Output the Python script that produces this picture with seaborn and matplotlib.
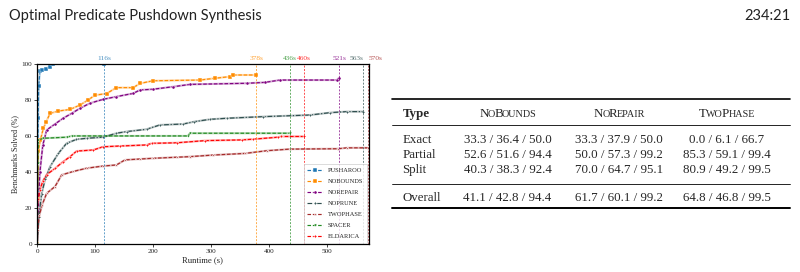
import pandas as pd
import matplotlib
matplotlib.use("Agg")
import matplotlib.pyplot as plt
import seaborn as sns
from matplotlib.lines import Line2D
from matplotlib.font_manager import FontProperties

# =============================
# Data
# =============================
solvers = ["Pusharoo", "NoBounds", "NoRepair", "NoPrune", "TwoPhase", "Spacer", "Eldarica"]

pusharoo_t = [0, 1, 2, 3, 5, 8, 15, 22, 27, 116]
pusharoo_s = [0, 30, 70, 88, 96, 96.6, 97.5, 98.5, 100, 100]

nobounds_t = [0, 1, 2.3, 6, 10.9, 16, 22.4, 36.8, 56.9, 74, 88, 100, 120, 137, 166,
              177.6, 200, 281, 307, 333, 338, 378]
nobounds_s = [0, 25, 52, 58, 64.3, 68, 72.6, 73.9, 74.8, 77.2, 80, 82.7, 83.6, 86.9, 86.9,
              89.2, 90.7, 91.1, 92.1, 93, 93.9, 93.9]

norepair_t = [0, 2, 5, 10, 16.7, 31, 45, 59.8, 74, 91, 114, 137, 166, 177.6, 200, 235,
              264, 361.5, 393, 419, 517, 521]
norepair_s = [0, 20, 40, 55, 63.4, 66.7, 69.9, 72.6, 75.4, 78.2, 80.4, 81.9, 83.7, 85.6, 86,
              87.4, 88.7, 89.3, 89.8, 91.1, 91.1, 92.4]

noprune_t = [0, 3, 8, 14, 22.4, 36.8, 51, 68, 85.7, 114, 137, 154.6, 189, 212, 252, 271,
             298, 327, 390, 471, 505, 534, 563]
noprune_s = [0, 15, 28, 36, 43, 50.4, 56, 58.2, 58.8, 59.4, 61.6, 62.5, 63.8, 66.2, 66.7, 68,
             69.3, 69.9, 70.8, 71.7, 73, 73.6, 73.6]

twophase_t = [0, 1, 4, 9, 16.7, 31, 42.6, 62.6, 85.7, 114, 137, 151.7, 177.6, 200, 241, 263,
              304, 358.6, 396, 436, 519.5, 534, 570]
twophase_s = [0, 8, 16, 22, 28.3, 32, 38.5, 40.4, 42.2, 43.4, 44, 46.8, 47.3, 47.7, 48.3, 48.6,
              49.5, 50.4, 51.9, 52.8, 53, 53.5, 53.5]

spacer_t = [0, 0.5, 1.2, 2.3, 10.9, 51, 60, 260, 264, 436]
spacer_s = [0, 20, 45, 57.8, 58.8, 59.4, 60.1, 60.1, 61.6, 61.6]

eldarica_t = [0, 0.5, 2, 5, 10, 16.7, 31, 45, 57, 68.4, 97, 114, 143, 189, 197.7, 241, 289.6,
              353, 373, 416, 420, 460]
eldarica_s = [0, 20, 25, 30.1, 35, 38.6, 42.1, 45.8, 48.6, 51.7, 52.3, 54.1, 54.5, 55.1, 56,
              56.3, 57.5, 57.9, 58.3, 59.4, 59.8, 59.8]

end_times = [116, 378, 436, 460, 521, 563, 570]
end_solvers = ["Pusharoo", "NoBounds", "Spacer", "Eldarica", "NoRepair", "NoPrune", "TwoPhase"]

table_cols = ["NoBounds", "NoRepair", "TwoPhase"]
table_rows = ["Exact", "Partial", "Split"]
nobounds_vals = [(33.3, 36.4, 50.0), (52.6, 51.6, 94.4), (40.3, 38.3, 92.4)]
norepair_vals = [(33.3, 37.9, 50.0), (50.0, 57.3, 99.2), (70.0, 64.7, 95.1)]
twophase_vals = [(0.0, 6.1, 66.7), (85.3, 59.1, 99.4), (80.9, 49.2, 99.5)]
overall_vals = [(41.1, 42.8, 94.4), (61.7, 60.1, 99.2), (64.8, 46.8, 99.5)]

series = {
    "Pusharoo": (pusharoo_t, pusharoo_s),
    "NoBounds": (nobounds_t, nobounds_s),
    "NoRepair": (norepair_t, norepair_s),
    "NoPrune": (noprune_t, noprune_s),
    "TwoPhase": (twophase_t, twophase_s),
    "Spacer": (spacer_t, spacer_s),
    "Eldarica": (eldarica_t, eldarica_s),
}
df = pd.concat(
    [pd.DataFrame({"Solver": k, "Runtime": t, "Solved": s}) for k, (t, s) in series.items()],
    ignore_index=True,
)

# =============================
# Styles
# =============================
palette = {
    "Pusharoo": "#1f77b4",
    "NoBounds": "#ff8c00",
    "NoRepair": "#800080",
    "NoPrune": "#2f4f4f",
    "TwoPhase": "#a52a2a",
    "Spacer": "#228b22",
    "Eldarica": "#ff0000",
}
markers = {"Pusharoo": "s", "NoBounds": "s", "NoRepair": "o", "NoPrune": "P",
           "TwoPhase": "*", "Spacer": "v", "Eldarica": "P"}
dashes = {k: (3, 1.5) for k in solvers}
dashes["NoPrune"] = (4, 1.5, 1, 1.5)

sns.set_theme(style="ticks")
SERIF = ["Liberation Serif", "DejaVu Serif"]
plt.rcParams["font.family"] = SERIF

fig = plt.figure(figsize=(8, 2.72), dpi=100)
ax = fig.add_axes([37 / 800, 1 - 244.3 / 272, 331.7 / 800, 180.3 / 272])

# pale underlay + dashed overlay
sns.lineplot(data=df, x="Runtime", y="Solved", hue="Solver", palette=palette,
             estimator=None, sort=False, lw=1.5, alpha=0.35, legend=False, ax=ax)
sns.lineplot(data=df, x="Runtime", y="Solved", hue="Solver", style="Solver",
             palette=palette, markers=markers, dashes=dashes, estimator=None, sort=False,
             lw=0.85, markersize=2.2, markeredgewidth=0.3, ax=ax)

# end-time markers
shift = {563: -4.7, 570: 6}
for t, name in zip(end_times, end_solvers):
    c = palette[name]
    ax.axvline(t, color=c, lw=0.7, ls=(0, (2, 1.5)), alpha=0.7)
    ax.annotate(f"{t}s", xy=(t, 1.0), xycoords=ax.get_xaxis_transform(),
                xytext=(shift.get(t, 0), 1.8), textcoords="offset points",
                ha="center", va="bottom", fontsize=5.3, color=c, alpha=0.8,
                annotation_clip=False)

ax.set_xlim(0, 572)
ax.set_ylim(0, 100)
ax.set_xticks([0, 100, 200, 300, 400, 500])
ax.set_yticks([0, 20, 40, 60, 80, 100])
ax.set_xlabel("Runtime (s)", fontsize=6.2, labelpad=1.5)
ax.set_ylabel("Benchmarks Solved (%)", fontsize=5.8, labelpad=2)
ax.tick_params(labelsize=5.2, length=2, width=0.6, pad=1.5)
for sp in ax.spines.values():
    sp.set_linewidth(0.9)
    sp.set_color("black")

handles, labels = ax.get_legend_handles_labels()
leg = ax.legend(handles, [l.upper() for l in labels], loc="lower right", fontsize=4.6,
                handlelength=2.4, labelspacing=0.85, borderaxespad=0.25,
                borderpad=0.6, frameon=True, fancybox=False, edgecolor="#cccccc")
leg.get_frame().set_linewidth(0.6)

# =============================
# Page header
# =============================
HEAD = ["Lato", "DejaVu Sans"]
fig.text(9 / 800, 1 - 20 / 272, "Optimal Predicate Pushdown Synthesis", fontsize=10.5,
         family=HEAD, color="#222222", va="baseline", ha="left")
fig.text(790 / 800, 1 - 20 / 272, "234:21", fontsize=10.5, family=HEAD,
         color="#222222", va="baseline", ha="right")

# =============================
# Table
# =============================
def fx(px):
    return px / 800


def fy(py):
    return 1 - py / 272


renderer = fig.canvas.get_renderer()


def advance(s, size):
    # width between glyph origins, measured between two bars
    prop = FontProperties(family=SERIF, size=size)
    full = renderer.get_text_width_height_descent("|" + s + "|", prop, ismath=False)[0]
    bars = renderer.get_text_width_height_descent("||", prop, ismath=False)[0]
    return full - bars


def smallcaps(xc, yb, text, size, kern=-0.8):
    # fake small caps: capitals full size, lower-case letters as smaller capitals
    runs = []
    for ch in text:
        up = ch.isupper()
        if runs and runs[-1][0] == up:
            runs[-1][1] += ch
        else:
            runs.append([up, ch])
    pieces = [(s.upper(), size if up else size * 0.78) for up, s in runs]
    widths = [advance(s, sz) + kern for s, sz in pieces]
    x = xc - sum(widths) / 2
    for (s, sz), w in zip(pieces, widths):
        fig.text(fx(x), fy(yb), s, fontsize=sz, va="baseline", ha="left")
        x += w


col_x = [507.5, 619, 726.5]
row_y = [143.3, 158.3, 173.3]
fs = 9.3

fig.text(fx(402.5), fy(116.7), "Type", fontsize=fs, weight="bold", va="baseline", ha="left")
for x, name in zip(col_x, table_cols):
    smallcaps(x, 116.7, name, fs)

cols = [nobounds_vals, norepair_vals, twophase_vals]
for i, (r, y) in enumerate(zip(table_rows, row_y)):
    fig.text(fx(402.5), fy(y), r, fontsize=fs, va="baseline", ha="left")
    for x, vals in zip(col_x, cols):
        a, b, c = vals[i]
        fig.text(fx(x), fy(y), f"{a:.1f} / {b:.1f} / {c:.1f}", fontsize=fs,
                 va="baseline", ha="center")

fig.text(fx(402.5), fy(200.7), "Overall", fontsize=fs, va="baseline", ha="left")
for x, (a, b, c) in zip(col_x, overall_vals):
    fig.text(fx(x), fy(200.7), f"{a:.1f} / {b:.1f} / {c:.1f}", fontsize=fs,
             va="baseline", ha="center")

for py, lw in [(99.3, 1.2), (125, 0.6), (184, 0.6), (207.8, 1.4)]:
    fig.add_artist(Line2D([fx(392), fx(790)], [fy(py), fy(py)], color="black", lw=lw))

fig.savefig("out.png", dpi=100)
